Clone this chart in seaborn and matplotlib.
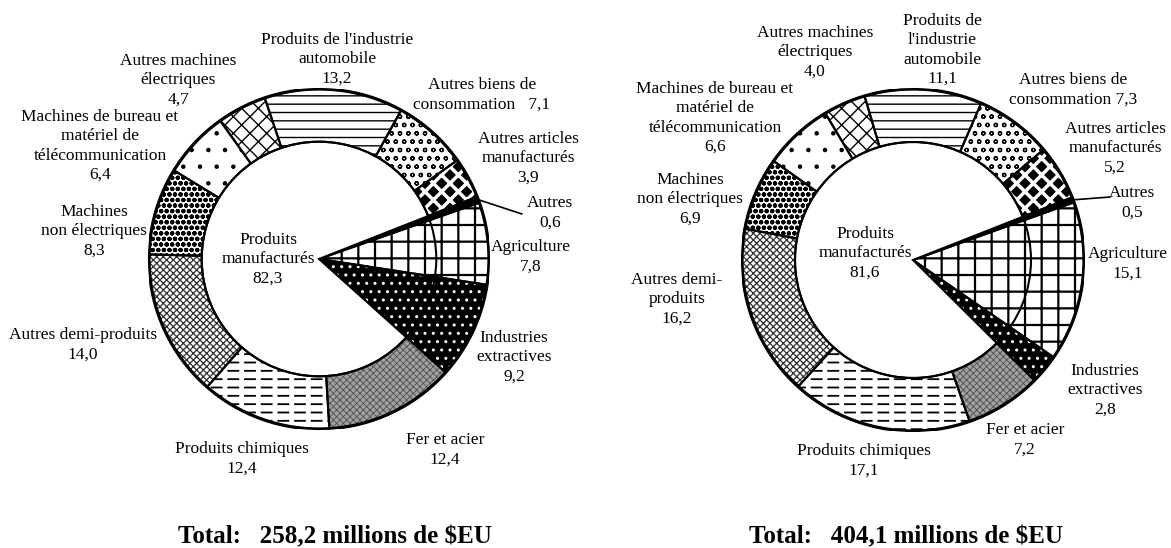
import math
import matplotlib
matplotlib.use("Agg")
import matplotlib.pyplot as plt
from matplotlib.patches import Circle
import seaborn as sns

# ---------------- data ----------------
categories = ["Autres", "Agriculture", "Industries extractives", "Fer et acier",
              "Produits chimiques", "Autres demi-produits", "Machines non électriques",
              "Machines de bureau et matériel de télécommunication",
              "Autres machines électriques", "Produits de l'industrie automobile",
              "Autres biens de consommation", "Autres articles manufacturés"]
is_manufactured = [False, False, False, True, True, True, True, True, True, True, True, True]

values_left = [0.6, 7.8, 9.2, 12.4, 12.4, 14.0, 8.3, 6.4, 4.7, 13.2, 7.1, 3.9]
values_right = [0.5, 15.1, 2.8, 7.2, 17.1, 16.2, 6.9, 6.6, 4.0, 11.1, 7.3, 5.2]
manuf_total_left = 82.3
manuf_total_right = 81.6
totals = [258.2, 404.1]

names_left = ["Autres", "Agriculture", "Industries\nextractives", "Fer et acier",
              "Produits chimiques", "Autres demi-produits", "Machines\nnon électriques",
              "Machines de bureau et\nmatériel de\ntélécommunication",
              "Autres machines\nélectriques", "Produits de l'industrie\nautomobile",
              "Autres biens de\nconsommation   ", "Autres articles\nmanufacturés"]
names_right = ["Autres", "Agriculture", "Industries\nextractives", "Fer et acier",
               "Produits chimiques", "Autres demi-\nproduits", "Machines\nnon électriques",
               "Machines de bureau et\nmatériel de\ntélécommunication",
               "Autres machines\nélectriques", "Produits de\nl'industrie\nautomobile",
               "Autres biens de\nconsommation ", "Autres articles\nmanufacturés"]
value_inline = [False] * 10 + [True, False]   # value on the same line as the name

# ---------------- layout (pixels) ----------------
W, H = 1171, 548
pie_geom = [(319, 259, 170), (913, 260, 171)]     # centre x, centre y, radius
label_pos_left = [(550, 213), (531, 257), (514, 357), (445, 450), (242, 459), (83, 345),
                  (94, 231), (100, 146), (178, 80), (337, 59), (482, 95), (528, 158)]
label_pos_right = [(1132, 203), (1128, 264), (1105, 390), (1025, 440), (864, 461), (677, 299),
                   (690, 199), (715, 118), (815, 52), (942, 50), (1073, 90), (1115, 148)]
leader_end = [(522, 214), (1110, 197)]
center_label_pos = [(268, 259), (865, 253)]
title_pos = [(335, 537), (906, 537)]
start_angle = 21.5
inner_ratio = 0.69

styles = [
    dict(face="black", hatch=None, hc="black", hlw=1.0),          # Autres
    dict(face="white", hatch="+", hc="black", hlw=1.6),           # Agriculture
    dict(face="black", hatch="..", hc="white", hlw=1.0),          # Industries extractives
    dict(face="#a0a0a0", hatch="xxxxx", hc="#505050", hlw=0.6),   # Fer et acier
    dict(face="white", hatch="--", hc="black", hlw=1.3),          # Produits chimiques
    dict(face="white", hatch="xxxxx", hc="#303030", hlw=0.9),     # Autres demi-produits
    dict(face="white", hatch="ooo", hc="black", hlw=1.5),         # Machines non électriques
    dict(face="white", hatch=".", hc="black", hlw=0.8),           # Machines de bureau
    dict(face="white", hatch="xx", hc="black", hlw=1.0),          # Autres machines électriques
    dict(face="white", hatch="--", hc="black", hlw=1.0),          # Automobile
    dict(face="white", hatch="oo", hc="black", hlw=0.9),          # Autres biens de consommation
    dict(face="black", hatch="xx", hc="white", hlw=2.5),          # Autres articles manufacturés
]

sns.set_theme(style="white")
plt.rcParams["font.family"] = ["Liberation Serif", "DejaVu Serif"]
plt.rcParams["text.color"] = "black"
plt.rcParams["hatch.linewidth"] = 1.0

fig = plt.figure(figsize=(W / 100, H / 100), dpi=100)
fig.patch.set_facecolor("white")


def fmt(v):
    return f"{v:.1f}".replace(".", ",")


def px(x, y):
    return x / W, 1 - y / H


def draw(idx, values, names, label_pos, manuf_total, total):
    cx, cy, r = pie_geom[idx]
    ax = fig.add_axes([(cx - r) / W, 1 - (cy + r) / H, 2 * r / W, 2 * r / H])
    # hatched fills
    wedges, _ = ax.pie(values, radius=1, startangle=start_angle, counterclock=False,
                       colors=[s["face"] for s in styles],
                       wedgeprops=dict(linewidth=0))
    for w, s in zip(wedges, styles):
        w.set_edgecolor(s["hc"])
        w.set_linewidth(0)
        if s["hatch"]:
            w.set_hatch(s["hatch"])
            if hasattr(w, "set_hatch_linewidth"):
                w.set_hatch_linewidth(s["hlw"])
    # dashed effect for Produits chimiques: white vertical cuts
    cuts, _ = ax.pie(values, radius=1, startangle=start_angle, counterclock=False,
                     colors=["none"] * len(values), wedgeprops=dict(linewidth=0))
    for i, w in enumerate(cuts):
        if i == 4:
            w.set_edgecolor("white")
            w.set_hatch("|")
            if hasattr(w, "set_hatch_linewidth"):
                w.set_hatch_linewidth(3.5)
        else:
            w.set_visible(False)
    # sector outlines
    ax.pie(values, radius=1, startangle=start_angle, counterclock=False,
           wedgeprops=dict(fill=False, edgecolor="black", linewidth=1.5))
    # white centre covering the manufactured sectors
    non_m = sum(v for v, m in zip(values, is_manufactured) if not m)
    man = sum(v for v, m in zip(values, is_manufactured) if m)
    inner, _ = ax.pie([non_m, man], radius=inner_ratio, startangle=start_angle,
                      counterclock=False, colors=["none", "white"],
                      wedgeprops=dict(edgecolor="black", linewidth=1.5))
    inner[0].set_visible(False)
    ax.add_patch(Circle((0, 0), inner_ratio, fill=False, edgecolor="black", linewidth=1.5))
    ax.add_patch(Circle((0, 0), 1, fill=False, edgecolor="black", linewidth=2.3))
    ax.set_xlim(-1, 1)
    ax.set_ylim(-1, 1)
    ax.set_aspect("auto")
    ax.axis("off")

    # labels
    for i, (name, v) in enumerate(zip(names, values)):
        txt = name + fmt(v) if value_inline[i] else name + "\n" + fmt(v)
        x, y = px(*label_pos[i])
        fig.text(x, y, txt, ha="center", va="center", fontsize=12.5,
                 linespacing=1.28, color="black")
    # leader line for "Autres"
    a0 = start_angle - values[0] / sum(values) * 360 / 2
    sx = cx + r * math.cos(math.radians(a0))
    sy = cy - r * math.sin(math.radians(a0))
    ex, ey = leader_end[idx]
    fig.add_artist(plt.Line2D([sx / W, ex / W], [1 - sy / H, 1 - ey / H],
                              transform=fig.transFigure, color="black", linewidth=1.2))
    x, y = px(*center_label_pos[idx])
    fig.text(x, y, "Produits\nmanufacturés\n" + fmt(manuf_total), ha="center",
             va="center", fontsize=12.5, linespacing=1.28, color="black")
    x, y = px(*title_pos[idx])
    fig.text(x, y, "Total:   " + fmt(total) + " millions de $EU", ha="center",
             va="center", fontsize=18, fontweight="bold", color="black")


draw(0, values_left, names_left, label_pos_left, manuf_total_left, totals[0])
draw(1, values_right, names_right, label_pos_right, manuf_total_right, totals[1])

fig.savefig("out.png", dpi=100, facecolor="white")
